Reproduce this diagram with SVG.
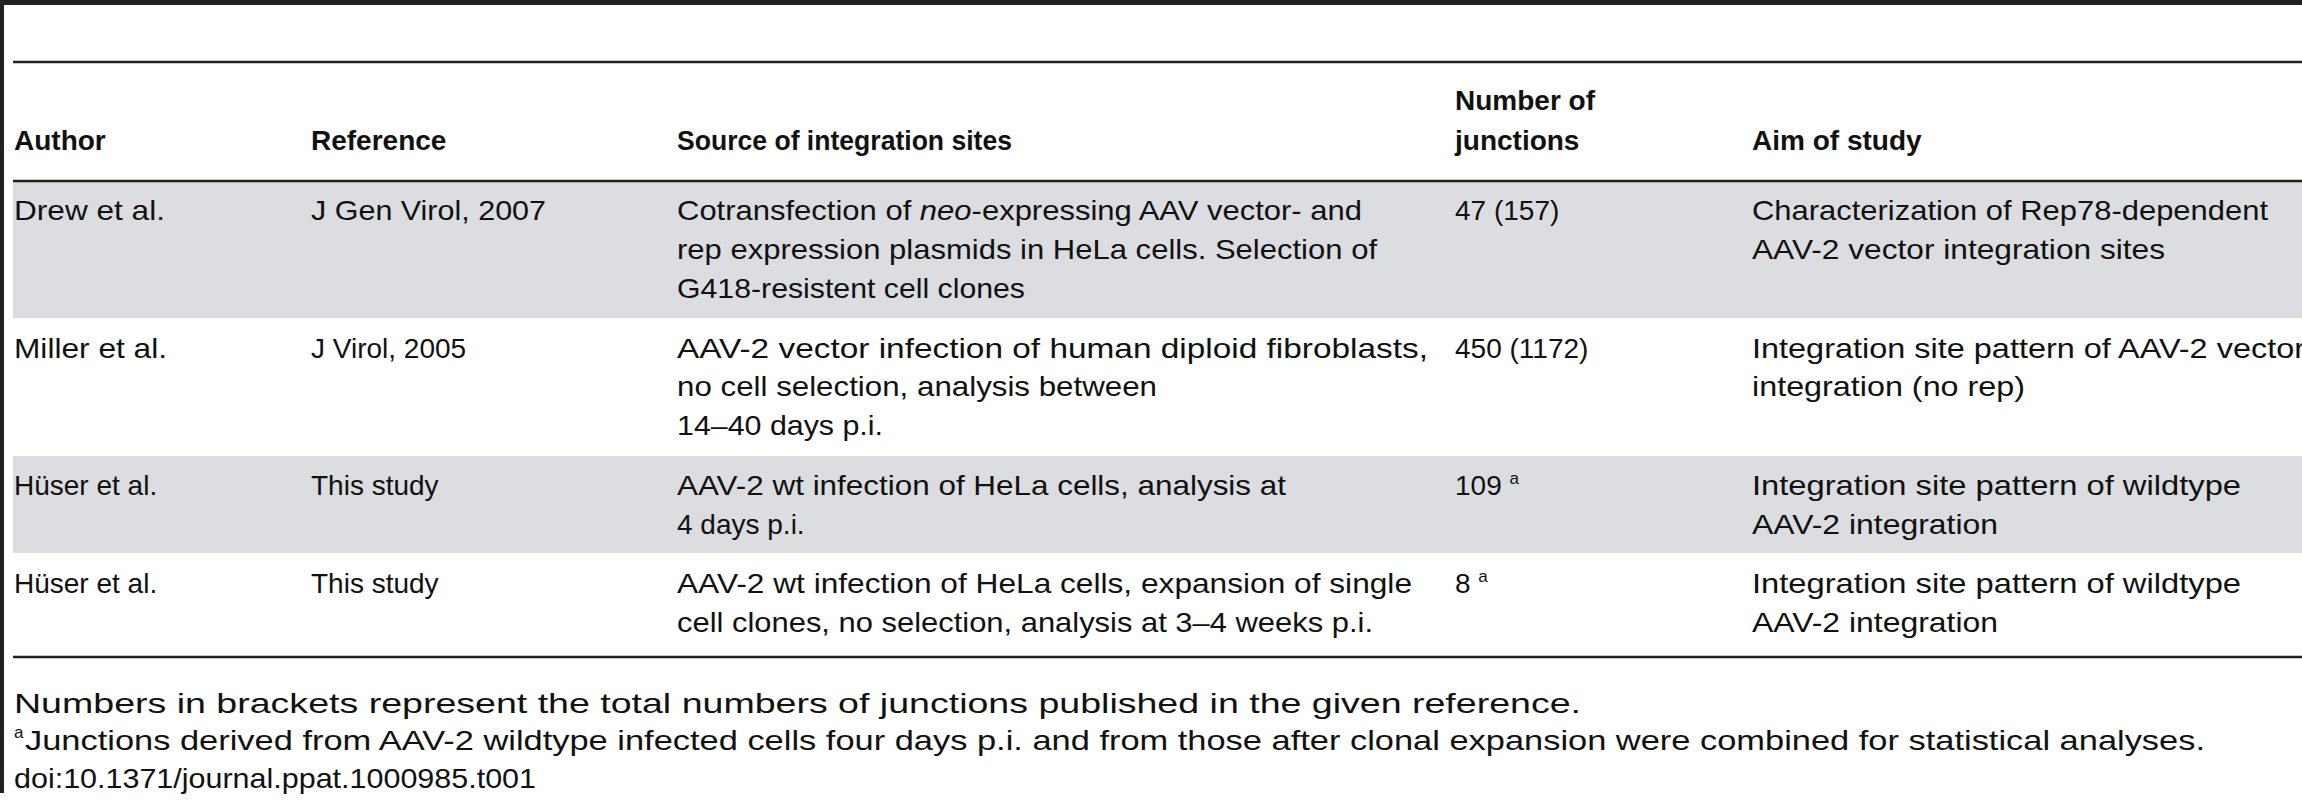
<svg xmlns="http://www.w3.org/2000/svg" width="2302" height="800" viewBox="0 0 2302 800">
<style>
text{font-family:"Liberation Sans",Arial,sans-serif;font-size:28px;fill:#111}
.h{font-weight:bold}
.sup{font-size:17px}
.gray{fill:#dcdde0}
.rule{stroke:#222;stroke-width:2.5}
</style>
<rect x="0" y="0" width="2302" height="800" fill="#fff"/>
<rect x="0" y="0" width="2302" height="5" fill="#222"/>
<rect x="0" y="0" width="4" height="793" fill="#222"/>
<g id="rows">
<rect class="gray" x="13" y="182" width="2289" height="136"/>
<rect class="gray" x="13" y="456" width="2289" height="97"/>
</g>
<g id="rules">
<line class="rule" x1="13" y1="62" x2="2302" y2="62"/>
<line class="rule" x1="13" y1="181" x2="2302" y2="181"/>
<line class="rule" x1="13" y1="657" x2="2302" y2="657"/>
</g>
<g id="header">
<text class="h" x="14" y="150">Author</text>
<text class="h" x="311" y="150">Reference</text>
<text class="h" x="677" y="150" textLength="335" lengthAdjust="spacingAndGlyphs">Source of integration sites</text>
<text class="h" x="1455" y="110">Number of</text>
<text class="h" x="1455" y="150">junctions</text>
<text class="h" x="1752" y="150">Aim of study</text>
</g>
<g id="row1">
<text x="14" y="220" textLength="151" lengthAdjust="spacingAndGlyphs">Drew et al.</text>
<text x="311" y="220" textLength="235" lengthAdjust="spacingAndGlyphs">J Gen Virol, 2007</text>
<text x="677" y="220" textLength="685" lengthAdjust="spacingAndGlyphs">Cotransfection of <tspan font-style="italic">neo</tspan>-expressing AAV vector- and</text>
<text x="677" y="259" textLength="700" lengthAdjust="spacingAndGlyphs">rep expression plasmids in HeLa cells. Selection of</text>
<text x="677" y="298" textLength="348" lengthAdjust="spacingAndGlyphs">G418-resistent cell clones</text>
<text x="1455" y="220">47 (157)</text>
<text x="1752" y="220" textLength="516" lengthAdjust="spacingAndGlyphs">Characterization of Rep78-dependent</text>
<text x="1752" y="259" textLength="413" lengthAdjust="spacingAndGlyphs">AAV-2 vector integration sites</text>
</g>
<g id="row2">
<text x="14" y="358" textLength="153" lengthAdjust="spacingAndGlyphs">Miller et al.</text>
<text x="311" y="358">J Virol, 2005</text>
<text x="677" y="358" textLength="751" lengthAdjust="spacingAndGlyphs">AAV-2 vector infection of human diploid fibroblasts,</text>
<text x="677" y="396" textLength="480" lengthAdjust="spacingAndGlyphs">no cell selection, analysis between</text>
<text x="677" y="435" textLength="206" lengthAdjust="spacingAndGlyphs">14–40 days p.i.</text>
<text x="1455" y="358">450 (1172)</text>
<text x="1752" y="358" textLength="553" lengthAdjust="spacingAndGlyphs">Integration site pattern of AAV-2 vector</text>
<text x="1752" y="396" textLength="273" lengthAdjust="spacingAndGlyphs">integration (no rep)</text>
</g>
<g id="row3">
<text x="14" y="495">Hüser et al.</text>
<text x="311" y="495">This study</text>
<text x="677" y="495" textLength="609" lengthAdjust="spacingAndGlyphs">AAV-2 wt infection of HeLa cells, analysis at</text>
<text x="677" y="534">4 days p.i.</text>
<text x="1455" y="495">109 <tspan class="sup" dy="-11">a</tspan></text>
<text x="1752" y="495" textLength="489" lengthAdjust="spacingAndGlyphs">Integration site pattern of wildtype</text>
<text x="1752" y="534" textLength="246" lengthAdjust="spacingAndGlyphs">AAV-2 integration</text>
</g>
<g id="row4">
<text x="14" y="593">Hüser et al.</text>
<text x="311" y="593">This study</text>
<text x="677" y="593" textLength="735" lengthAdjust="spacingAndGlyphs">AAV-2 wt infection of HeLa cells, expansion of single</text>
<text x="677" y="632" textLength="696" lengthAdjust="spacingAndGlyphs">cell clones, no selection, analysis at 3–4 weeks p.i.</text>
<text x="1455" y="593">8 <tspan class="sup" dy="-11">a</tspan></text>
<text x="1752" y="593" textLength="489" lengthAdjust="spacingAndGlyphs">Integration site pattern of wildtype</text>
<text x="1752" y="632" textLength="246" lengthAdjust="spacingAndGlyphs">AAV-2 integration</text>
</g>
<g id="footnotes">
<text x="14" y="713" textLength="1567" lengthAdjust="spacingAndGlyphs">Numbers in brackets represent the total numbers of junctions published in the given reference.</text>
<text class="sup" x="14" y="738">a</text>
<text x="25" y="750" textLength="2180" lengthAdjust="spacingAndGlyphs">Junctions derived from AAV-2 wildtype infected cells four days p.i. and from those after clonal expansion were combined for statistical analyses.</text>
<text x="14" y="788" textLength="522" lengthAdjust="spacingAndGlyphs">doi:10.1371/journal.ppat.1000985.t001</text>
</g>
</svg>
